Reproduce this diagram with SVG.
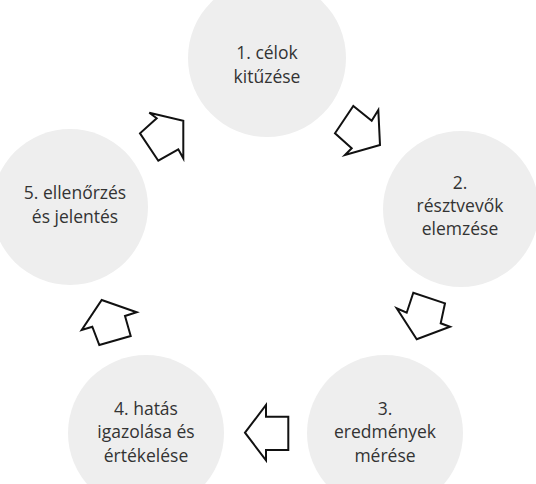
<svg xmlns="http://www.w3.org/2000/svg" width="536" height="484" viewBox="0 0 536 484">
<style>
.c{fill:#eeeeee;stroke:none}
.t{font-family:"Open Sans","Liberation Sans",sans-serif;font-size:17.5px;fill:#333333;text-anchor:middle}
.a{fill:#ffffff;stroke:#111111;stroke-width:2;stroke-linejoin:miter}
</style>
<rect width="536" height="484" fill="#ffffff"/>
<g id="node1"><circle class="c" cx="267" cy="58" r="79"/><text class="t" x="267" y="59">1. célok</text><text class="t" x="267" y="83">kitűzése</text></g>
<g id="node2"><circle class="c" cx="461" cy="209" r="78"/><text class="t" x="460" y="189">2.</text><text class="t" x="460" y="212">résztvevők</text><text class="t" x="460" y="235">elemzése</text></g>
<g id="node3"><circle class="c" cx="385" cy="433" r="78"/><text class="t" x="385" y="415">3.</text><text class="t" x="385" y="438">eredmények</text><text class="t" x="385" y="462">mérése</text></g>
<g id="node4"><circle class="c" cx="146" cy="433" r="78"/><text class="t" x="146" y="415">4. hatás</text><text class="t" x="146" y="438">igazolása és</text><text class="t" x="146" y="462">értékelése</text></g>
<g id="node5"><circle class="c" cx="70" cy="207" r="78"/><text class="t" x="75" y="199">5. ellenőrzés</text><text class="t" x="75" y="223">és jelentés</text></g>
<g id="connectors">
<polygon class="a" points="380,145 345,155 351.7,148.3 335,133.3 353.3,106 371.7,120.7 378.3,110"/>
<polygon class="a" points="416.7,339.3 396.7,308.3 406.7,312.7 413.3,292.7 445,303.3 440.7,323.3 450,326.7"/>
<polygon class="a" points="245,432.7 266,405 266,416.7 288.3,416.7 288.3,450 266,450 266,460.4"/>
<polygon class="a" points="101.7,300 136.7,312.3 125,316 130.7,336 99.3,345 92.3,326.7 81.7,330"/>
<polygon class="a" points="183.3,120.7 183.3,158.3 178.3,149.3 158.3,160.7 140,133.3 156.7,118.3 149.3,112.7"/>
</g>
</svg>
